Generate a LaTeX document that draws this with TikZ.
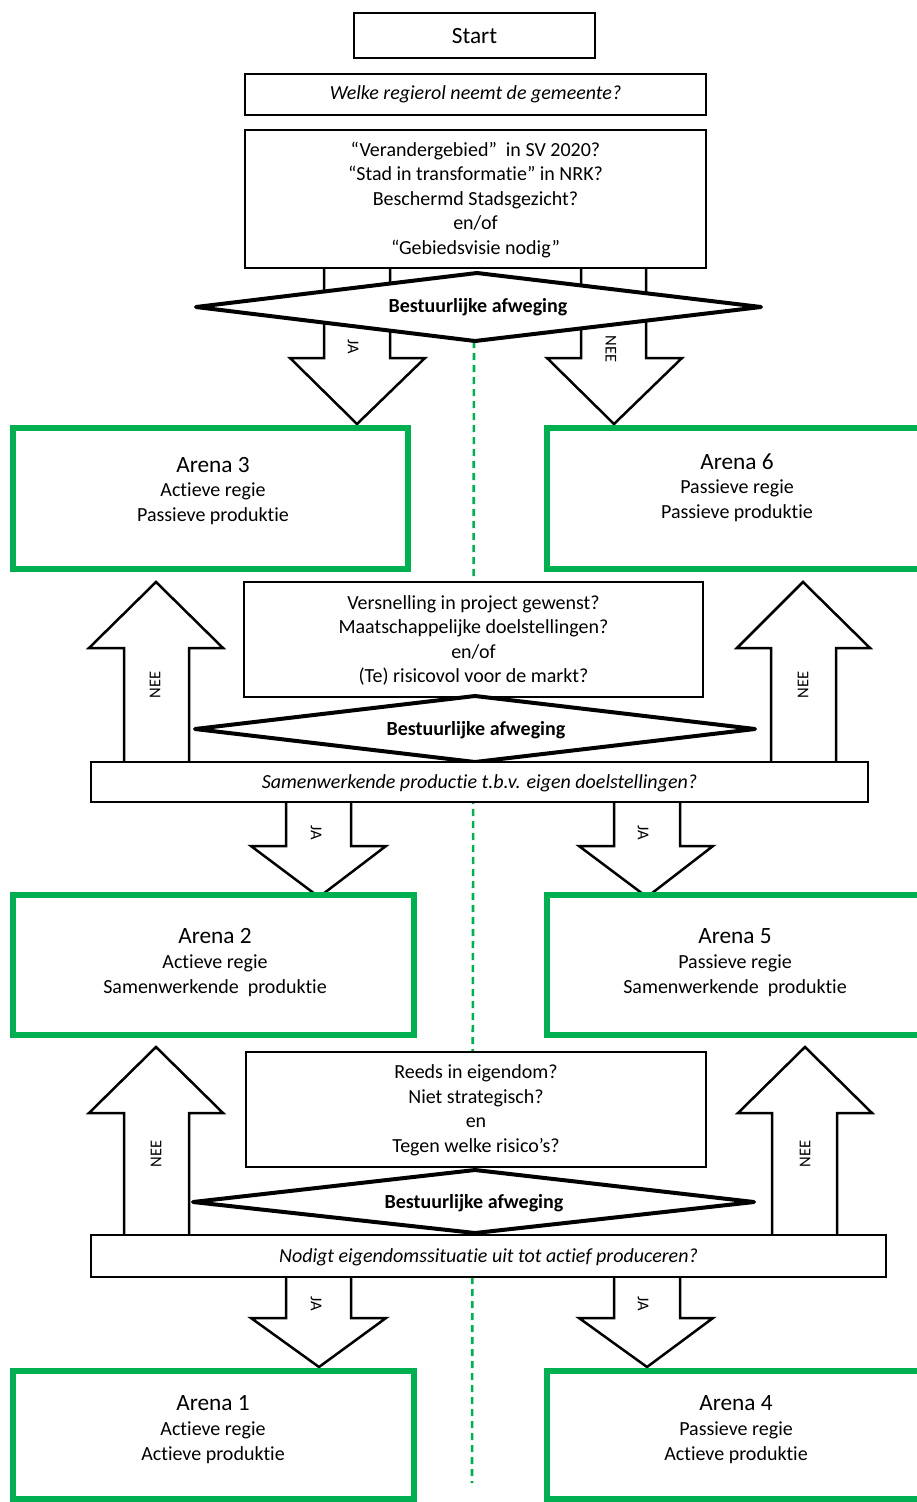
\documentclass[tikz,border=0pt]{standalone}
\usepackage{fontspec}
\setmainfont{Carlito}[Ligatures=NoCommon]
\definecolor{agreen}{HTML}{00B050}
\tikzset{
  box/.style={draw=black, line width=2.6pt, fill=white, inner sep=0pt},
  arena/.style={draw=agreen, line width=6pt, fill=white, inner sep=0pt},
  dia/.style={draw=black, line width=4pt, fill=white, line join=round},
  barrow/.style={draw=black, line width=2.5pt, fill=white, line join=miter},
  q/.style={font=\fontsize{20}{24.5}\selectfont, align=center, inner sep=0pt},
  qi/.style={font=\fontsize{20}{24.5}\selectfont\itshape, align=center, inner sep=0pt},
  qb/.style={font=\fontsize{20}{24.5}\selectfont\bfseries, align=center, inner sep=0pt},
  big/.style={font=\fontsize{23.3}{26}\selectfont, inner sep=0pt},
  sub/.style={font=\fontsize{20}{25}\selectfont, align=center, inner sep=0pt},
  lbl/.style={font=\fontsize{16.5}{18}\selectfont, inner sep=0pt},
  gdash/.style={draw=agreen, line width=2.6pt, dash pattern=on 7pt off 5pt},
}
\begin{document}
\begin{tikzpicture}[x=1pt,y=-1pt]
\clip (0,0) rectangle (917,1502);
\fill[white] (0,0) rectangle (917,1502);

% green dashed centre line
\coordinate (gtop) at (474,341);
\coordinate (gbot) at (472,1483);
\draw[gdash] (gtop) -- (gbot);

% ---------- level 1 ----------
\node[box, minimum width=241pt, minimum height=45pt] (start) at (474.5,35.5) {};
\node[big] (starttxt) at (474.5,36.5) {Start};
\node[box, minimum width=461pt, minimum height=41pt] (welke) at (475.5,94.5) {};
\node[qi] (welketxt) at (welke.center) {Welke regierol neemt de gemeente?};

% block arrows (behind box and diamond)
\draw[barrow] (324,262) -- (324,358) -- (290,358) -- (357,424) -- (425,358) -- (390,358) -- (390,262) -- cycle;
\draw[barrow] (581,262) -- (581,358) -- (547,358) -- (614,424) -- (682,358) -- (646,358) -- (646,262) -- cycle;

\node[box, minimum width=461pt, minimum height=138pt] (crit1) at (475.5,199) {};
\node[q] (crit1txt) at (475.5,200) {``Verandergebied''\ \ in SV 2020?\\``Stad in transformatie'' in NRK?\\Beschermd Stadsgezicht?\\en/of\\``Gebiedsvisie nodig''};

\draw[dia] (196,307) -- (477,273) -- (761,307) -- (475,341) -- cycle;
\node[qb] (dia1) at (478,307) {Bestuurlijke afweging};

\node[lbl, rotate=-90] (ja1) at (353,347) {JA};
\node[lbl, rotate=-90] (nee1) at (611,349) {NEE};

% arenas 3 and 6
\node[arena, minimum width=395pt, minimum height=141pt] (a3) at (210.5,498.5) {};
\node[arena, minimum width=390pt, minimum height=141pt] (a6) at (742,498.5) {};
\node[big] (a3t) at (213,465) {Arena 3};
\node[sub] (a3s) at (213,503.5) {Actieve regie\\Passieve produktie};
\node[big] (a6t) at (737,462) {Arena 6};
\node[sub] (a6s) at (737,500.5) {Passieve regie\\Passieve produktie};

% ---------- level 2 ----------
\draw[barrow] (124,768) -- (124,648) -- (89,648) -- (156,582) -- (223,648) -- (189,648) -- (189,768) -- cycle;
\draw[barrow] (771,768) -- (771,648) -- (737,648) -- (803,582) -- (870,648) -- (836,648) -- (836,768) -- cycle;
\node[lbl, rotate=90] (nee2l) at (155,685) {NEE};
\node[lbl, rotate=90] (nee2r) at (803,685) {NEE};

\node[box, minimum width=459pt, minimum height=115pt] (crit2) at (473.5,639.5) {};
\node[q] (crit2txt) at (473.5,640.5) {Versnelling in project gewenst?\\Maatschappelijke doelstellingen?\\en/of\\(Te) risicovol voor de markt?};

\draw[barrow] (286,796) -- (286,846) -- (251,846) -- (319,897) -- (386,846) -- (351,846) -- (351,796) -- cycle;
\draw[barrow] (614,796) -- (614,846) -- (579,846) -- (647,897) -- (713,846) -- (680,846) -- (680,796) -- cycle;

\draw[dia] (195,729) -- (475,696) -- (755,729) -- (475,762) -- cycle;
\node[qb] (dia2) at (476,730) {Bestuurlijke afweging};

\node[box, minimum width=777pt, minimum height=40pt] (samen) at (479.5,782) {};
\node[qi] (samentxt) at (479.5,783) {Samenwerkende productie t.b.v. eigen doelstellingen?};

\node[lbl, rotate=-90] (ja2l) at (316,833) {JA};
\node[lbl, rotate=-90] (ja2r) at (643,833) {JA};

% arenas 2 and 5
\node[arena, minimum width=401pt, minimum height=140pt] (a2) at (213.5,965) {};
\node[arena, minimum width=390pt, minimum height=140pt] (a5) at (742,965) {};
\node[big] (a2t) at (215,936) {Arena 2};
\node[sub] (a2s) at (215,975.5) {Actieve regie\\Samenwerkende\ \ produktie};
\node[big] (a5t) at (735,936) {Arena 5};
\node[sub] (a5s) at (735,975.5) {Passieve regie\\Samenwerkende\ \ produktie};

% ---------- level 3 ----------
\draw[barrow] (124,1241) -- (124,1113) -- (89,1113) -- (156,1047) -- (223,1113) -- (189,1113) -- (189,1241) -- cycle;
\draw[barrow] (772,1241) -- (772,1113) -- (738,1113) -- (805,1047) -- (872,1113) -- (837,1113) -- (837,1241) -- cycle;
\node[lbl, rotate=90] (nee3l) at (156,1154) {NEE};
\node[lbl, rotate=90] (nee3r) at (805,1154) {NEE};

\node[box, minimum width=460pt, minimum height=115pt] (crit3) at (476,1109.5) {};
\node[q] (crit3txt) at (476,1110.5) {Reeds in eigendom?\\Niet strategisch?\\en\\Tegen welke risico's?};

\draw[barrow] (286,1271) -- (286,1318) -- (251,1318) -- (319,1367) -- (386,1318) -- (351,1318) -- (351,1271) -- cycle;
\draw[barrow] (614,1271) -- (614,1318) -- (579,1318) -- (647,1367) -- (713,1318) -- (680,1318) -- (680,1271) -- cycle;

\draw[dia] (193,1202) -- (475,1170) -- (754,1202) -- (475,1233) -- cycle;
\node[qb] (dia3) at (474,1203) {Bestuurlijke afweging};

\node[box, minimum width=795pt, minimum height=42pt] (nodigt) at (488.5,1256) {};
\node[qi] (nodigttxt) at (488.5,1257) {Nodigt eigendomssituatie uit tot actief produceren?};

\node[lbl, rotate=-90] (ja3l) at (316,1304) {JA};
\node[lbl, rotate=-90] (ja3r) at (643,1304) {JA};

% arenas 1 and 4
\node[arena, minimum width=401pt, minimum height=128pt] (a1) at (213.5,1435) {};
\node[arena, minimum width=390pt, minimum height=128pt] (a4) at (742,1435) {};
\node[big] (a1t) at (213,1403) {Arena 1};
\node[sub] (a1s) at (213,1442.5) {Actieve regie\\Actieve produktie};
\node[big] (a4t) at (736,1403) {Arena 4};
\node[sub] (a4s) at (736,1442.5) {Passieve regie\\Actieve produktie};
\end{tikzpicture}
\end{document}
